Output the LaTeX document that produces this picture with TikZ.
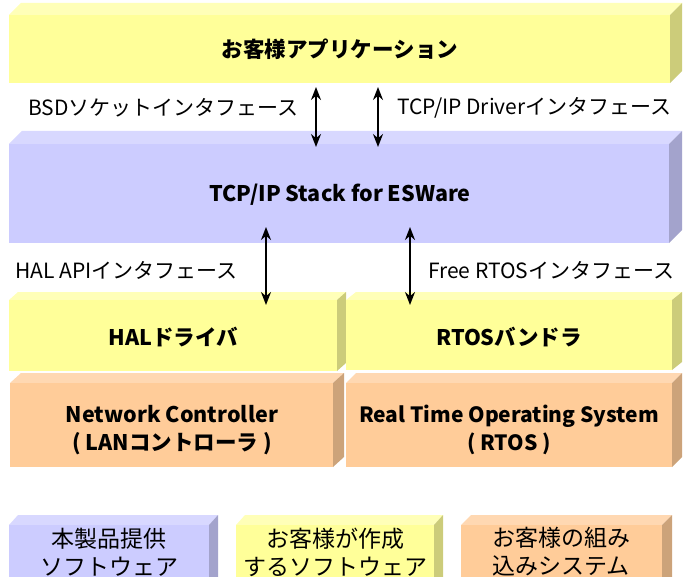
\documentclass[tikz,border=0pt]{standalone}
\usepackage{fontspec}
\setmainfont{Noto Sans CJK JP}
\usetikzlibrary{arrows.meta}
\definecolor{yelF}{HTML}{FFFF99}
\definecolor{yelT}{HTML}{FFFFB8}
\definecolor{yelS}{HTML}{CCCC7A}
\definecolor{bluF}{HTML}{CCCCFF}
\definecolor{bluT}{HTML}{D8D8FF}
\definecolor{bluS}{HTML}{A3A3CC}
\definecolor{oraF}{HTML}{FFCC99}
\definecolor{oraT}{HTML}{FFD8B2}
\definecolor{oraS}{HTML}{CCA37A}
% #1 x1, #2 y1, #3 x2, #4 y2, #5 dx, #6 dy, #7 colour prefix
\newcommand\cubebox[7]{%
  \fill[#7T] (#1,#2) -- (#1+#5,#2-#6) -- (#3+#5,#2-#6) -- (#3,#2) -- cycle;
  \fill[#7S] (#3,#2) -- (#3+#5,#2-#6) -- (#3+#5,#4-#6) -- (#3,#4) -- cycle;
  \fill[#7F] (#1,#2) rectangle (#3,#4);
}
\tikzset{
  boxlabel/.style={font=\fontsize{21.5}{28}\selectfont\bfseries, align=center, inner sep=0pt},
  iflabel/.style={font=\fontsize{21}{25}\selectfont, anchor=west, inner sep=0pt},
  legend/.style={font=\fontsize{23}{28}\selectfont, align=center, inner sep=0pt},
  dbl/.style={line width=1.8pt, {Stealth[length=13pt,width=10pt]}-{Stealth[length=13pt,width=10pt]}}
}
\begin{document}
\begin{tikzpicture}[x=1pt,y=-1pt]
\useasboundingbox (0,0) rectangle (698,577);
\clip (0,0) rectangle (698,577);
% boxes
\cubebox{9}{15}{670}{83}{12}{12}{yel}
\cubebox{9}{144}{669}{243}{13}{13}{blu}
\cubebox{9}{300}{337}{371}{9}{8}{yel}
\cubebox{346}{300}{672}{370}{10}{8}{yel}
\cubebox{10}{383}{333}{467}{11}{10}{ora}
\cubebox{346}{383}{672}{467}{10}{10}{ora}
\cubebox{9}{525}{209}{600}{9}{10}{blu}
\cubebox{236}{525}{434}{600}{9}{10}{yel}
\cubebox{461}{525}{662}{600}{10}{10}{ora}
% box labels
\node[boxlabel] (app) at (340,49) {お客様アプリケーション};
\node[boxlabel] (tcp) at (340,195) {TCP/IP Stack for ESWare};
\node[boxlabel] (hal) at (173,337) {HALドライバ};
\node[boxlabel] (rtv) at (509,337) {RTOSバンドラ};
\node[boxlabel] (net) at (172,430) {Network Controller\\( LANコントローラ )};
\node[boxlabel,font=\fontsize{21}{28}\selectfont\bfseries] (rtos) at (509,430) {Real Time Operating System\\( RTOS )};
% interface labels
\node[iflabel] (bsd) at (28,108) {BSDソケットインタフェース};
\node[iflabel] (drv) at (397,108) {TCP/IP Driverインタフェース};
\node[iflabel] (hapi) at (15,270) {HAL APIインタフェース};
\node[iflabel] (frtos) at (428,270) {Free RTOSインタフェース};
% legend
\node[legend] (lg1) at (109,552) {本製品提供\\ソフトウェア};
\node[legend] (lg2) at (335,552) {お客様が作成\\するソフトウェア};
\node[legend] (lg3) at (561,552) {お客様の組み\\込みシステム};
% arrows
\coordinate (a1t) at (316,87);
\coordinate (a1b) at (316,147);
\coordinate (a2t) at (378,87);
\coordinate (a2b) at (378,147);
\coordinate (a3t) at (266,227);
\coordinate (a3b) at (266,305);
\coordinate (a4t) at (410,227);
\coordinate (a4b) at (410,305);
\draw[dbl] (a1t) -- (a1b);
\draw[dbl] (a2t) -- (a2b);
\draw[dbl] (a3t) -- (a3b);
\draw[dbl] (a4t) -- (a4b);
\end{tikzpicture}
\end{document}
